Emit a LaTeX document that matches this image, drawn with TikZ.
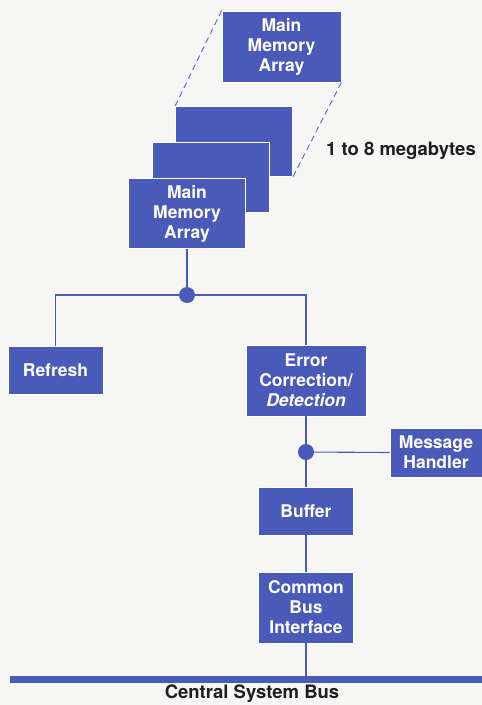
\documentclass[tikz,border=0pt]{standalone}
\usepackage{fontspec}
\setmainfont{TeX Gyre Heros}
\definecolor{blk}{HTML}{4A5AB8}
\definecolor{paper}{HTML}{F6F6F4}
\definecolor{ink}{HTML}{1E1E22}
\begin{document}
\begin{tikzpicture}[x=1pt,y=-1pt,
  blockbox/.style={rectangle, fill=blk, draw=white, line width=0.8pt, text=white,
    font=\fontsize{17.5pt}{20pt}\selectfont\bfseries, align=center, inner sep=0pt},
  wire/.style={draw=blk, line width=1.1pt},
  dashwire/.style={draw=blk!85, line width=1pt, dash pattern=on 6pt off 4pt},
  junction/.style={circle, fill=blk, inner sep=0pt, minimum size=16pt},
  caption/.style={text=ink, font=\fontsize{18.5pt}{20pt}\selectfont\bfseries}]

% page
\fill[paper] (0,0) rectangle (482,705);
\useasboundingbox (0,0) rectangle (482,705);

% memory array stack (back to front)
\node[blockbox, minimum width=117pt, minimum height=70pt] (b3) at (234,141.5) {};
\node[blockbox, minimum width=117pt, minimum height=70pt] (b2) at (210.5,177.5) {};
\node[blockbox, minimum width=117pt, minimum height=70pt] (b1) at (187,213.5) {Main\\Memory\\Array};

% enlarged view of one array
\node[blockbox, minimum width=119pt, minimum height=71pt] (top) at (281.5,46.5) {Main\\Memory\\Array};
\draw[dashwire] (top.north west) -- (b3.north west);
\draw[dashwire] (top.south east) -- (b3.south east);
\node[caption] (mb) at (401,151) {1 to 8 megabytes};

% junctions
\node[junction] (j1) at (187,295) {};
\node[junction] (j2) at (306,452) {};

% functional blocks
\node[blockbox, minimum width=95pt, minimum height=48pt] (refresh) at (55.5,370) {Refresh};
\node[blockbox, minimum width=120pt, minimum height=71pt] (err) at (306,380.5) {Error\\Correction/\\{\itshape Detection}};
\node[blockbox, minimum width=92pt, minimum height=49pt] (msg) at (436,452.5) {Message\\Handler};
\node[blockbox, minimum width=95pt, minimum height=48pt] (buf) at (306,511) {Buffer};
\node[blockbox, minimum width=95pt, minimum height=71pt] (cbi) at (306,607.5) {Common\\Bus\\Interface};

% system bus
\coordinate (busL) at (10,679);
\coordinate (busR) at (482,679);
\coordinate (tap) at (306,679);
\draw[blk, line width=7pt] (busL) -- (busR);
\node[caption] (csb) at (252,693.5) {Central System Bus};

% connections
\draw[wire] (b1.south) -- (j1);
\draw[wire] (j1) -| (refresh.north);
\draw[wire] (j1) -| (err.north);
\draw[wire] (err.south) -- (j2);
\draw[wire] (j2) -- (msg.west);
\draw[wire] (j2) -- (buf.north);
\draw[wire] (buf.south) -- (cbi.north);
\draw[wire] (cbi.south) -- (tap);
\end{tikzpicture}
\end{document}
